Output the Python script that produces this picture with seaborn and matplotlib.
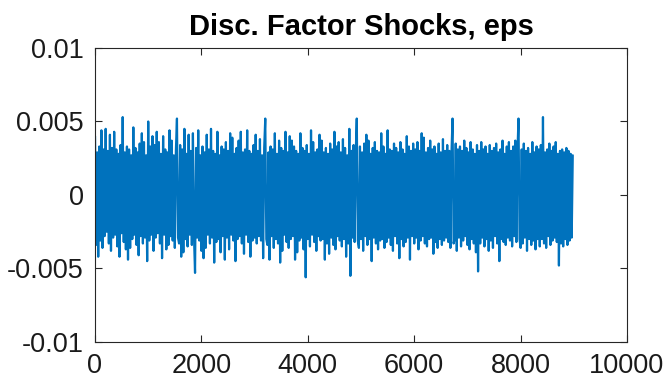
import numpy as np
import pandas as pd
import seaborn as sns
import matplotlib.pyplot as plt
from matplotlib.ticker import FuncFormatter

# shocks, in units of 1e-4, one value every 20 periods
row00 = [40, -34, 29, -42, 33, -31, 44, -36, 31, -28, 45, -25, 30, -33, 41, -38, 32, -29, 43, -27, 31, -35, 28, -42, 34, -26, 53, -32, 29, -37]
row01 = [33, -44, 31, -36, 27, -30, 46, -27, 32, -34, 29, -41, 35, -28, 42, -33, 36, -29, 27, -45, 50, -31, 33, -27, 40, -38, 34, -29, 43, -26]
row02 = [36, -33, 28, -43, 40, -27, 31, -37, 29, -34, 44, -28, 37, -31, 27, -36, 30, 52, -29, -33, 34, -42, 31, -39, 45, -30, 28, -35, 41, -27]
row03 = [30, -34, 42, -28, -53, 32, -29, 44, -31, 27, -38, 33, -43, 29, -36, 41, -27, 31, -33, 45, -29, 30, -46, 28, -32, 43, -30, 27, -39, 33]
row04 = [-28, 31, -44, 36, -29, 30, -37, 42, -27, 39, -31, 28, -45, 32, -30, 37, -28, 43, -33, 29, -40, 31, -27, 44, -32, 30, -42, 28, -31, 34]
row05 = [-29, 41, -33, 30, -28, 38, -31, 27, -43, 32, 52, -30, -34, 29, -44, 33, -28, 31, -36, 42, -30, 28, -33, 37, -46, 32, -38, 30, -27, 43]
row06 = [-32, 29, -36, 40, -30, 37, -28, 33, -44, 30, -39, 28, -31, 42, -29, 32, -37, 30, -56, 34, -30, 28, -35, 44, -27, 36, -32, 29, -38, 31]
row07 = [-28, 41, -31, 37, -30, 29, -44, 32, -33, 28, -40, 35, -29, 31, -34, 43, -37, 33, -28, 36, -31, 29, -35, 38, -30, 32, -42, 27, -33, 45]
row08 = [-55, 30, -29, 34, -32, 28, 52, -31, -36, 33, -30, 29, -38, 35, -28, 41, -34, 37, -30, 28, -45, 32, -29, 36, -33, 30, -37, 29, -31, 42]
row09 = [-30, 33, -36, 28, -32, 44, -29, 31, -34, 30, -38, 35, -28, 32, -33, 29, -43, 36, -30, 31, -35, 28, -32, 40, -29, 33, -44, 30, -28, 35]
row10 = [-33, 31, -29, 36, -37, 30, -31, 42, -28, 39, -33, 29, -35, 32, -30, 37, -29, 31, -40, 33, -32, 28, -36, 35, -30, 29, -34, 38, -31, 30]
row11 = [-29, 34, -32, 30, -36, 28, 52, -33, -30, 35, -38, 31, -29, 33, -35, 30, -31, 37, -28, 32, -34, 29, -37, 36, -30, 31, -33, 28, -39, 34]
row12 = [-52, 30, -33, 36, -29, 31, -35, 33, -30, 28, -38, 34, -31, 30, -36, 32, -28, 35, -33, 29, -45, 31, -30, 37, -32, 28, -34, 33, -29, 36]
row13 = [-31, 30, -35, 33, -28, 37, -32, 29, 52, -30, -36, 31, -33, 35, -29, 30, -38, 32, -30, 28, -34, 36, -31, 29, -37, 33, -30, 31, -35, 34]
row14 = [-30, 53, -33, 29, -36, 31, -28, 35, -34, 30, -31, 33, -29, 36, -32, 28, -48, 30, -33, 31, -35, 29, -30, 32, -34, 30, -31, 28, -29, 27]

rows = [row00, row01, row02, row03, row04, row05, row06, row07,
        row08, row09, row10, row11, row12, row13, row14]
eps = np.concatenate(rows) * 1e-4
periods = np.arange(len(eps)) * 20 + 1

xticks = [0, 2000, 4000, 6000, 8000, 10000]
yticks = [-0.01, -0.005, 0, 0.005, 0.01]

df = pd.DataFrame({"t": periods, "eps": eps})

sns.set_style("white")
plt.rcParams["font.family"] = ["Liberation Sans", "DejaVu Sans"]
plt.rcParams["axes.unicode_minus"] = False

fig = plt.figure(figsize=(6.66, 3.88), dpi=100)
ax = fig.add_axes([0.1426, 0.1186, 0.7988, 0.7577])

sns.lineplot(data=df, x="t", y="eps", ax=ax, color="#0072BD",
             linewidth=1.6, estimator=None, sort=False)

ax.set_xlim(0, 10000)
ax.set_ylim(-0.01, 0.01)
ax.set_xticks(xticks)
ax.set_yticks(yticks)
ax.yaxis.set_major_formatter(FuncFormatter(lambda v, p: "0" if v == 0 else f"{v:g}"))
ax.set_xlabel("")
ax.set_ylabel("")
ax.set_title("Disc. Factor Shocks, eps", fontsize=21, fontweight="bold",
             color="black", pad=9)

ax.tick_params(direction="in", length=5, width=0.8, color="#262626",
               labelcolor="#1a1a1a", labelsize=19.5,
               top=True, right=True, left=True, bottom=True)
ax.tick_params(axis="x", pad=8)
ax.tick_params(axis="y", pad=8)
for s in ax.spines.values():
    s.set_color("#262626")
    s.set_linewidth(0.8)

fig.savefig("out.png", dpi=100)
